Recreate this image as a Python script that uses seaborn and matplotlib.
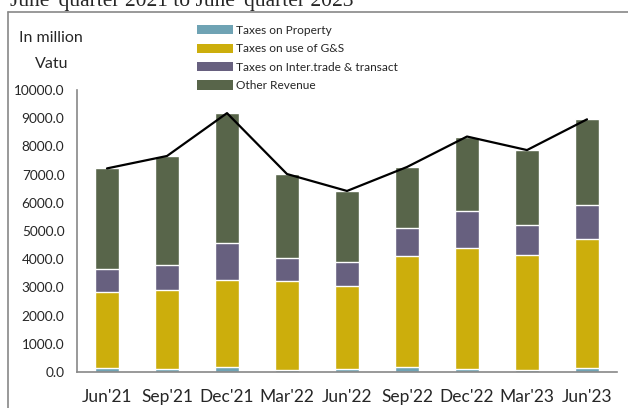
import numpy as np
import pandas as pd
import matplotlib
matplotlib.use("Agg")
import matplotlib.pyplot as plt
import seaborn as sns
from matplotlib.patches import Patch
from matplotlib.lines import Line2D

# quarterly revenue, million Vatu
quarters = ["Jun'21", "Sep'21", "Dec'21", "Mar'22", "Jun'22", "Sep'22", "Dec'22", "Mar'23", "Jun'23"]
property_tax = [150.0, 100.0, 180.0, 80.0, 100.0, 180.0, 100.0, 70.0, 140.0]
gs_tax = [2700.0, 2810.0, 3070.0, 3130.0, 2950.0, 3950.0, 4300.0, 4090.0, 4590.0]
trade_tax = [790.0, 870.0, 1310.0, 840.0, 860.0, 980.0, 1310.0, 1040.0, 1180.0]
other_rev = [3580.0, 3880.0, 4620.0, 2970.0, 2510.0, 2160.0, 2640.0, 2670.0, 3050.0]

series_names = ["Taxes on Property", "Taxes on use of G&S",
                "Taxes on Inter.trade & transact", "Other Revenue"]
colors = ["#6FA3B4", "#CCAE0C", "#67607F", "#58654A"]

FONT = "Lato"


def main():
    sns.set_style("white")
    plt.rcParams["font.family"] = [FONT, "DejaVu Sans"]

    df = pd.DataFrame({
        "quarter": quarters,
        series_names[0]: property_tax,
        series_names[1]: gs_tax,
        series_names[2]: trade_tax,
        series_names[3]: other_rev,
    })
    cum = df[series_names].cumsum(axis=1)
    total = cum[series_names[-1]].values

    fig = plt.figure(figsize=(6.28, 4.08), dpi=100)
    ax = fig.add_axes([77 / 628, 36 / 408, 540 / 628, 282 / 408])

    # stacked bars: draw cumulative tops from largest down
    for name, col in reversed(list(zip(series_names, colors))):
        sns.barplot(x=df["quarter"], y=cum[name], color=col, saturation=1,
                    width=0.4, ax=ax, order=quarters)

    sns.lineplot(x=np.arange(len(quarters)), y=total, color="black", lw=1.6, ax=ax)

    ax.set_ylim(0, 10000)
    ax.set_xlim(-0.5, len(quarters) - 0.5)
    ax.set_yticks(np.arange(0, 10001, 1000))
    ax.set_yticklabels([f"{v:.1f}" for v in np.arange(0, 10001, 1000)], fontsize=9.8)
    ax.set_xticks(np.arange(-0.5, len(quarters), 1.0))
    ax.set_xticklabels([])
    ax.set_xticks(np.arange(len(quarters)), minor=True)
    ax.set_xticklabels(quarters, minor=True, fontsize=12.5)
    ax.tick_params(axis="x", which="minor", length=0, pad=12)
    ax.tick_params(axis="x", which="major", length=6, color="#888888", direction="out")
    ax.tick_params(axis="y", length=5, color="#888888", direction="out", pad=4)
    ax.set_xlabel("")
    ax.set_ylabel("")
    for s in ["top", "right"]:
        ax.spines[s].set_visible(False)
    for s in ["left", "bottom"]:
        ax.spines[s].set_color("#888888")
        ax.spines[s].set_linewidth(1.2)

    handles = [Patch(facecolor=c, edgecolor="none") for c in colors]
    fig.legend(handles, series_names, loc="upper left", bbox_to_anchor=(197 / 628, 1 - 25 / 408),
               frameon=False, fontsize=8.6, handlelength=3.0, handleheight=0.8,
               labelspacing=0.62, handletextpad=0.3, borderpad=0, borderaxespad=0)

    fig.text(51 / 628, 1 - 38 / 408, "In million", ha="center", va="center", fontsize=11.5)
    fig.text(52 / 628, 1 - 64 / 408, "Vatu", ha="center", va="center", fontsize=11.5)

    fig.text(10 / 628, 1 - 6 / 408, "June' quarter 2021 to June' quarter 2023",
             family="Liberation Serif", fontsize=15.5, ha="left", va="baseline")

    # outer frame
    fig.add_artist(Line2D([8 / 628, 1], [1 - 12 / 408, 1 - 12 / 408], color="#888888", lw=1.2))
    fig.add_artist(Line2D([8 / 628, 8 / 628], [0, 1 - 12 / 408], color="#888888", lw=1.2))

    fig.savefig("out.png", dpi=100)
    plt.close(fig)


if __name__ == "__main__":
    main()
